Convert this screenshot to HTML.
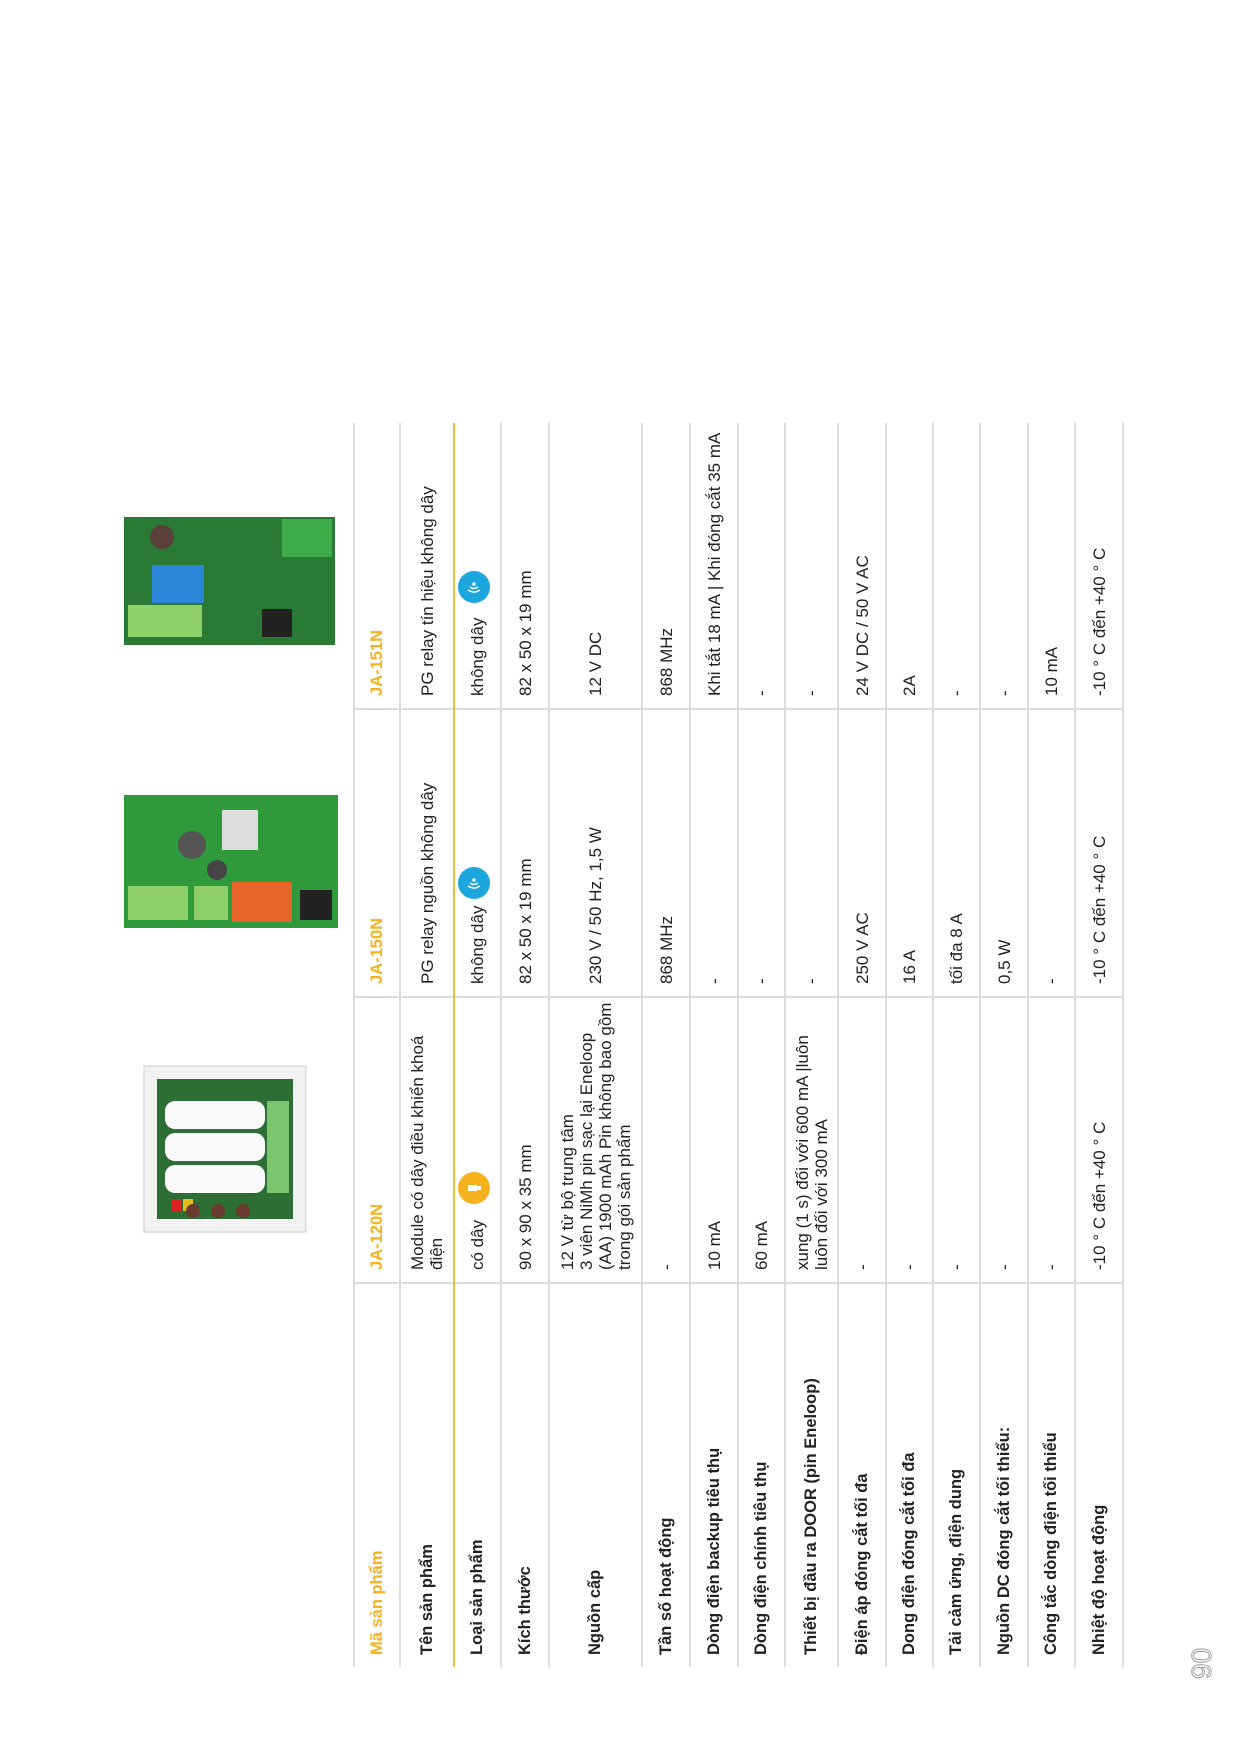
<!DOCTYPE html>
<html><head><meta charset="utf-8"><style>
html,body{margin:0;padding:0;background:#fff;}
body{width:1241px;height:1755px;overflow:hidden;position:relative;}
.inner{position:absolute;left:0;top:0;width:1755px;height:1241px;transform-origin:0 0;transform:translateY(1755px) rotate(-90deg);font-family:"Liberation Sans",sans-serif;color:#222;}
table{position:absolute;left:88px;top:353px;width:1244px;border-collapse:collapse;table-layout:fixed;font-size:17px;line-height:19px;}
td{border-top:2px solid #dcdcdc;border-bottom:2px solid #dcdcdc;padding:0 12px;vertical-align:middle;white-space:nowrap;overflow:visible;}
td+td{border-left:2px solid #dcdcdc;}
td:first-child{font-weight:bold;font-size:16.5px;}
tr.hd td{color:#f5b21c;font-weight:bold;font-size:16.5px;}
tr.nm td{border-bottom:2px solid #f2be3a;}
.ic{position:absolute;width:32px;height:32px;border-radius:50%;}
.pg{position:absolute;left:76px;top:1186px;font-size:28px;color:transparent;-webkit-text-stroke:1px #9a9a9a;font-family:"Liberation Sans",sans-serif;}
</style></head><body>
<div class="inner">
<table>
<colgroup><col style="width:384px"><col style="width:286px"><col style="width:288px"><col style="width:286px"></colgroup>
<tr class="hd" style="height:46px"><td>Mã sản phẩm</td><td>JA-120N</td><td>JA-150N</td><td>JA-151N</td></tr>
<tr class="nm" style="height:54px"><td>Tên sản phẩm</td><td>Module có dây điều khiển khoá<br>điện</td><td>PG relay nguồn không dây</td><td>PG relay tín hiệu không dây</td></tr>
<tr style="height:47px"><td>Loại sản phẩm</td><td>có dây</td><td>không dây</td><td>không dây</td></tr>
<tr style="height:48px"><td>Kích thước</td><td>90 x 90 x 35 mm</td><td>82 x 50 x 19 mm</td><td>82 x 50 x 19 mm</td></tr>
<tr style="height:93px"><td>Nguồn cấp</td><td>12 V từ bộ trung tâm<br>3 viên NiMh pin sạc lại Eneloop<br>(AA) 1900 mAh Pin không bao gồm<br>trong gói sản phẩm</td><td>230 V / 50 Hz, 1,5 W</td><td>12 V DC</td></tr>
<tr style="height:48px"><td>Tần số hoạt động</td><td>-</td><td>868 MHz</td><td>868 MHz</td></tr>
<tr style="height:48px"><td>Dòng điện backup tiêu thụ</td><td>10 mA</td><td>-</td><td>Khi tắt 18 mA | Khi đóng cắt 35 mA</td></tr>
<tr style="height:47px"><td>Dòng điện chính tiêu thụ</td><td>60 mA</td><td>-</td><td>-</td></tr>
<tr style="height:53px"><td>Thiết bị đầu ra DOOR (pin Eneloop)</td><td>xung (1 s) đối với 600 mA |luôn<br>luôn đối với 300 mA</td><td>-</td><td>-</td></tr>
<tr style="height:48px"><td>Điện áp đóng cắt tối đa</td><td>-</td><td>250 V AC</td><td>24 V DC / 50 V AC</td></tr>
<tr style="height:47px"><td>Dong điện đóng cắt tối đa</td><td>-</td><td>16 A</td><td>2A</td></tr>
<tr style="height:47px"><td>Tải cảm ứng, điện dung</td><td>-</td><td>tối đa 8 A</td><td>-</td></tr>
<tr style="height:48px"><td>Nguồn DC đóng cắt tối thiểu:</td><td>-</td><td>0,5 W</td><td>-</td></tr>
<tr style="height:47px"><td>Công tắc dòng điện tối thiểu</td><td>-</td><td>-</td><td>10 mA</td></tr>
<tr style="height:48px"><td>Nhiệt độ hoạt động</td><td>-10 ° C đến +40 ° C</td><td>-10 ° C đến +40 ° C</td><td>-10 ° C đến +40 ° C</td></tr>
</table>

<div class="ic" style="left:551px;top:458px;background:#f5b21c;"><svg width="32" height="32"><rect x="13" y="10" width="6" height="9" fill="#fff"/><rect x="14" y="19" width="4" height="4" fill="#fff"/></svg></div>
<div class="ic" style="left:856px;top:458px;background:#1ba6de;"><svg width="32" height="32" fill="none" stroke="#fff" stroke-width="1.5"><path d="M13 10 Q9 16 13 22"/><path d="M16 12 Q13 16 16 20"/><circle cx="19" cy="16" r="1" fill="#fff"/></svg></div>
<div class="ic" style="left:1152px;top:458px;background:#1ba6de;"><svg width="32" height="32" fill="none" stroke="#fff" stroke-width="1.5"><path d="M13 10 Q9 16 13 22"/><path d="M16 12 Q13 16 16 20"/><circle cx="19" cy="16" r="1" fill="#fff"/></svg></div>

<svg style="position:absolute;left:522px;top:143px" width="168" height="164">
<rect x="1" y="1" width="166" height="162" fill="#f2f2f2" stroke="#ccc"/>
<rect x="14" y="14" width="140" height="136" fill="#2c6e33"/>
<rect x="40" y="22" width="28" height="100" rx="10" fill="#fafafa"/>
<rect x="72" y="22" width="28" height="100" rx="10" fill="#fafafa"/>
<rect x="104" y="22" width="28" height="100" rx="10" fill="#fafafa"/>
<rect x="40" y="124" width="92" height="22" fill="#7cc56f"/>
<rect x="22" y="28" width="12" height="10" fill="#d22"/><rect x="22" y="40" width="12" height="10" fill="#e6c020"/>
<circle cx="22" cy="100" r="7" fill="#6b3b30"/><circle cx="22" cy="75" r="7" fill="#6b3b30"/><circle cx="22" cy="50" r="7" fill="#6b3b30"/>
</svg>
<svg style="position:absolute;left:825px;top:122px" width="137" height="218">
<rect x="2" y="2" width="133" height="214" fill="#2e9a3c"/>
<rect x="10" y="6" width="34" height="60" fill="#8ecf6a"/>
<rect x="10" y="72" width="34" height="34" fill="#8ecf6a"/>
<rect x="8" y="110" width="40" height="60" fill="#e8652a"/>
<rect x="80" y="100" width="40" height="36" fill="#ddd"/>
<circle cx="85" cy="70" r="14" fill="#555"/><circle cx="60" cy="95" r="10" fill="#444"/>
<rect x="10" y="178" width="30" height="32" fill="#222"/>
</svg>
<svg style="position:absolute;left:1108px;top:122px" width="132" height="215">
<rect x="2" y="2" width="128" height="211" fill="#2a7a36"/>
<rect x="10" y="6" width="32" height="74" fill="#8ecf6a"/>
<rect x="44" y="30" width="38" height="52" fill="#2b86d8"/>
<rect x="10" y="140" width="28" height="30" fill="#222"/>
<circle cx="110" cy="40" r="12" fill="#5a3f3a"/>
<rect x="90" y="160" width="38" height="50" fill="#3cab48"/>
</svg>

<div class="pg">90</div>
</div>
</body></html>
